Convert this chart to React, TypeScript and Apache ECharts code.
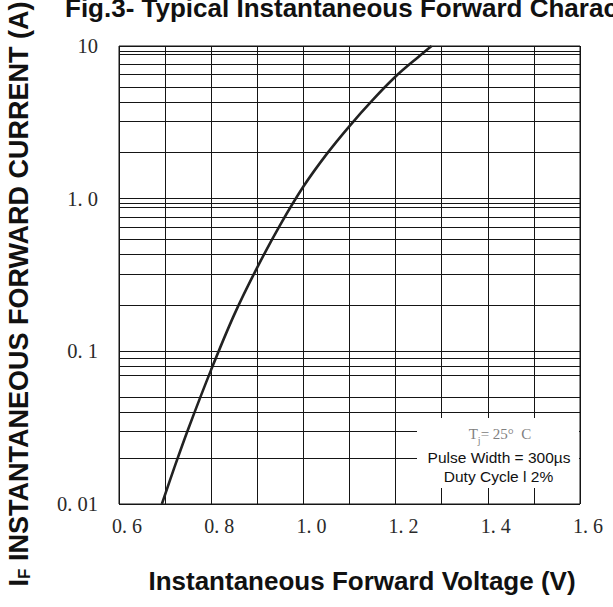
import React, { useEffect, useRef } from "react";
import * as echarts from "echarts";

// Curve: forward voltage (V) vs forward current (A)
const voltage = [0.693, 0.72, 0.75, 0.8, 0.85, 0.9, 0.95, 1.0, 1.05, 1.1, 1.15, 1.2, 1.25, 1.278];
const current = [0.01, 0.0173, 0.0309, 0.0759, 0.174, 0.355, 0.676, 1.2, 1.95, 2.99, 4.42, 6.31, 8.51, 10];

// Tick labels
const xLabelValues = [0.6, 0.8, 1.0, 1.2, 1.4, 1.6];
const xLabelTexts = ["0. 6", "0. 8", "1. 0", "1. 2", "1. 4", "1. 6"];
const yLabelValues = [0.01, 0.1, 1, 10];
const yLabelTexts = ["0. 01", "0. 1", "1. 0", "10"];

// Minor horizontal grid lines (as drawn in the figure), per decade
const decades = [0.01, 0.1, 1];
const minorMultipliers = [2, 3.2, 4.3, 5.4, 6.5, 7.6, 8.8, 9.3];

const titleText = "Fig.3- Typical Instantaneous Forward Characteristics";
const xNameText = "Instantaneous Forward Voltage (V)";
const yNameMain = " INSTANTANEOUS FORWARD CURRENT (A)";
const noteTj = "= 25°  C";
const notePulse = "Pulse Width = 300µs";
const noteDuty = "Duty Cycle l 2%";

export default function App() {
  const ref = useRef<HTMLDivElement>(null);

  useEffect(() => {
    if (!ref.current) return;
    const chart = echarts.init(ref.current, undefined, { renderer: "svg" });
    const curveData = voltage.map((v, i) => [v, current[i]]);
    const minorValues: number[] = [];
    decades.forEach((d) => minorMultipliers.forEach((m) => minorValues.push(d * m)));

    const lineColor = "#151515";
    const sans = "Liberation Sans, Arial, sans-serif";
    const serif = "Liberation Serif, Times New Roman, serif";

    chart.setOption({
      animation: false,
      backgroundColor: "#ffffff",
      grid: {
        left: 119,
        right: 33,
        top: 46,
        bottom: 103,
        show: true,
        borderColor: lineColor,
        borderWidth: 1,
        backgroundColor: "transparent",
      },
      xAxis: {
        type: "value",
        min: 0.6,
        max: 1.6,
        interval: 0.1,
        axisLine: { show: false },
        axisTick: { show: false },
        splitLine: { show: true, lineStyle: { color: lineColor, width: 1 } },
        axisLabel: {
          margin: 12,
          fontFamily: serif,
          fontSize: 20,
          color: "#2a2a2a",
          padding: [0, 0, 0, 16],
          formatter: (v: number) => {
            const i = xLabelValues.findIndex((x) => Math.abs(x - v) < 1e-6);
            return i >= 0 ? xLabelTexts[i] : "";
          },
        },
      },
      yAxis: {
        type: "log",
        logBase: 10,
        min: 0.01,
        max: 10,
        axisLine: { show: false },
        axisTick: { show: false },
        splitLine: { show: true, lineStyle: { color: lineColor, width: 1 } },
        axisLabel: {
          margin: 21,
          fontFamily: serif,
          fontSize: 20.5,
          color: "#2a2a2a",
          formatter: (v: number) => {
            const i = yLabelValues.findIndex((y) => Math.abs(Math.log10(y) - Math.log10(v)) < 1e-6);
            return i >= 0 ? yLabelTexts[i] : "";
          },
        },
      },
      series: [
        {
          type: "line",
          data: curveData,
          smooth: 0.35,
          symbol: "none",
          clip: true,
          lineStyle: { color: "#222222", width: 2.6 },
          markLine: {
            silent: true,
            symbol: ["none", "none"],
            label: { show: false },
            lineStyle: { color: lineColor, width: 1, type: "solid" },
            data: minorValues.map((v) => ({ yAxis: v })),
          },
          z: 3,
        },
      ],
      graphic: [
        {
          type: "text",
          x: 65,
          y: 8,
          z: 100,
          style: {
            text: titleText,
            fontFamily: sans,
            fontWeight: "bold",
            fontSize: 26,
            fill: "#111111",
            align: "left",
            verticalAlign: "middle",
          },
        },
        {
          type: "text",
          x: 362,
          y: 581,
          z: 100,
          style: {
            text: xNameText,
            fontFamily: sans,
            fontWeight: "bold",
            fontSize: 26,
            fill: "#111111",
            align: "center",
            verticalAlign: "middle",
          },
        },
        {
          type: "text",
          x: 17.5,
          y: 294,
          rotation: Math.PI / 2,
          z: 100,
          style: {
            text: "{i|I}{f|F}{n|" + yNameMain + "}",
            align: "center",
            verticalAlign: "middle",
            rich: {
              i: { fontFamily: sans, fontWeight: "bold", fontSize: 27, fill: "#111111", lineHeight: 30, verticalAlign: "bottom" },
              f: { fontFamily: sans, fontWeight: "bold", fontSize: 17, fill: "#111111", lineHeight: 22, verticalAlign: "bottom" },
              n: { fontFamily: sans, fontWeight: "bold", fontSize: 27, fill: "#111111", lineHeight: 30, verticalAlign: "bottom" },
            },
          },
        },
        {
          type: "rect",
          z: 100,
          shape: { x: 417, y: 418, width: 162, height: 70 },
          style: { fill: "#ffffff" },
        },
        {
          type: "text",
          x: 500,
          y: 434,
          z: 101,
          style: {
            text: "{g|T}{s|j}{g|" + noteTj + "}",
            align: "center",
            verticalAlign: "middle",
            rich: {
              g: { fontFamily: serif, fontSize: 15, fill: "#808080", lineHeight: 22, verticalAlign: "middle" },
              s: { fontFamily: serif, fontSize: 10, fill: "#808080", lineHeight: 10, verticalAlign: "bottom" },
            },
          },
        },
        {
          type: "text",
          x: 499,
          y: 457,
          z: 101,
          style: {
            text: notePulse,
            fontFamily: sans,
            fontSize: 15.5,
            fill: "#111111",
            align: "center",
            verticalAlign: "middle",
          },
        },
        {
          type: "text",
          x: 498.5,
          y: 476,
          z: 101,
          style: {
            text: noteDuty,
            fontFamily: sans,
            fontSize: 15.5,
            fill: "#111111",
            align: "center",
            verticalAlign: "middle",
          },
        },
      ],
    });

    return () => {
      chart.dispose();
    };
  }, []);

  return (
    <div
      ref={ref}
      style={{ position: "fixed", left: 0, top: 0, width: 613, height: 607, background: "#fff" }}
    />
  );
}
